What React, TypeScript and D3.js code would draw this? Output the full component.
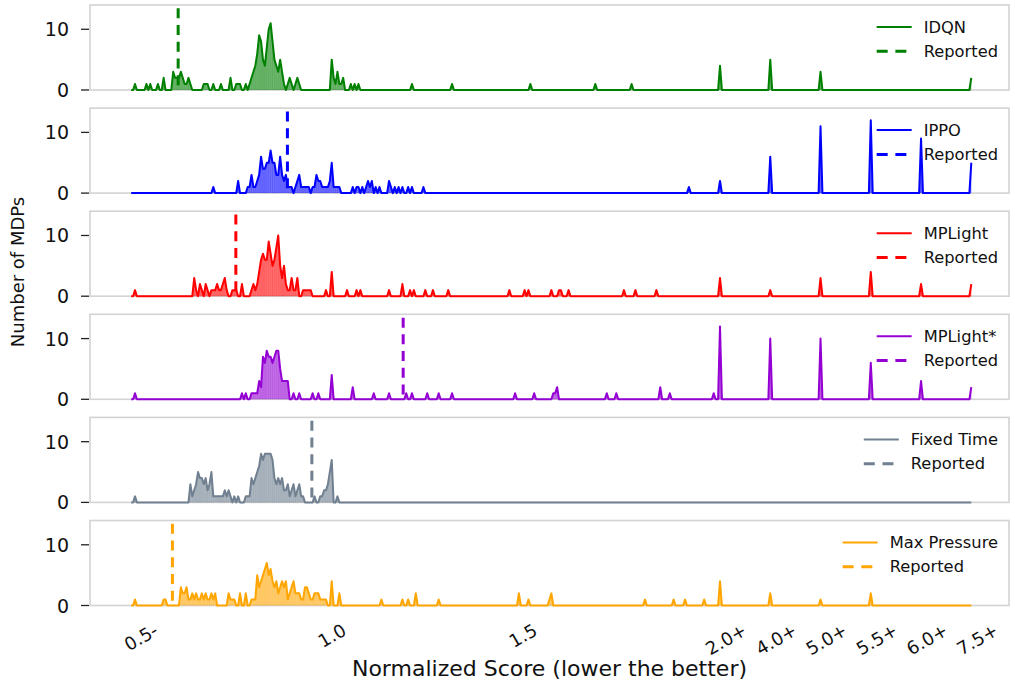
import React, { useMemo } from "react";
import * as d3 from "d3";

type Bin = [number, number];

// ---------------- DATA ----------------
const methodNames = ["IDQN", "IPPO", "MPLight", "MPLight*", "Fixed Time", "Max Pressure"];
const methodColors = ["green", "blue", "red", "darkviolet", "slategray", "orange"];
const reportedScores = [0.613, 0.899, 0.764, 1.202, 0.963, 0.598];

const mainTickValues = [0.5, 1.0, 1.5];
const mainTickLabels = ["0.5-", "1.0", "1.5"];
const tailLabels = ["2.0+", "4.0+", "5.0+", "5.5+", "6.0+", "7.5+"];
const yTickValues = [0, 10];

const idqnBins: Bin[] = [
  [0.5, 1], [0.53, 1], [0.54, 1], [0.56, 1], [0.575, 2],
  [0.6, 3], [0.605, 2], [0.61, 2], [0.615, 2], [0.62, 3], [0.625, 2], [0.63, 1], [0.635, 1], [0.64, 2], [0.645, 1],
  [0.68, 1], [0.685, 1], [0.69, 1], [0.705, 1], [0.725, 1], [0.75, 2], [0.765, 1], [0.77, 1], [0.775, 1], [0.79, 1],
  [0.8, 1], [0.805, 2], [0.81, 3], [0.815, 4], [0.82, 6], [0.825, 9], [0.83, 8], [0.835, 5], [0.84, 4], [0.845, 7],
  [0.85, 10], [0.855, 11], [0.86, 8], [0.865, 5], [0.87, 4], [0.875, 3], [0.88, 5], [0.885, 3], [0.89, 1],
  [0.9, 1], [0.905, 2], [0.91, 1], [0.92, 1], [0.925, 2], [0.93, 1],
  [1.015, 5], [1.02, 2], [1.025, 1], [1.03, 3], [1.035, 1], [1.04, 1], [1.045, 2], [1.065, 1], [1.075, 1], [1.085, 1],
  [1.225, 1], [1.33, 1], [1.535, 1], [1.705, 1], [1.8, 1],
];
const idqnTail = [4, 5, 3, 0, 0, 2];

const ippoBins: Bin[] = [
  [0.705, 1], [0.77, 2],
  [0.795, 1], [0.8, 1], [0.805, 3], [0.81, 1], [0.815, 1], [0.82, 2], [0.825, 3], [0.83, 6], [0.835, 4], [0.84, 4],
  [0.845, 5], [0.85, 5], [0.855, 7], [0.86, 5], [0.865, 5], [0.87, 3], [0.875, 3], [0.88, 6], [0.885, 3], [0.89, 2],
  [0.895, 3], [0.9, 1], [0.905, 1], [0.91, 1],
  [0.92, 1], [0.925, 2], [0.93, 3], [0.935, 1], [0.94, 1], [0.945, 1], [0.95, 1], [0.955, 1],
  [0.965, 1], [0.97, 1], [0.975, 3], [0.98, 2], [0.985, 2], [0.99, 1], [0.995, 1], [1.0, 1], [1.005, 1], [1.01, 2],
  [1.015, 5], [1.02, 1], [1.025, 1], [1.03, 1], [1.035, 1],
  [1.07, 1], [1.08, 1], [1.085, 1], [1.095, 1], [1.105, 1], [1.11, 2], [1.115, 1], [1.12, 2], [1.13, 1], [1.14, 1],
  [1.165, 2], [1.17, 1], [1.18, 1], [1.19, 1], [1.2, 1], [1.215, 1], [1.225, 1], [1.255, 1],
  [1.95, 1],
];
const ippoTail = [2, 6, 11, 12, 9, 5];

const mplightBins: Bin[] = [
  [0.5, 1],
  [0.655, 3], [0.66, 1], [0.67, 2], [0.675, 1], [0.685, 2], [0.69, 1], [0.7, 1], [0.705, 1], [0.71, 1], [0.715, 2],
  [0.72, 1], [0.725, 1], [0.73, 2], [0.735, 3], [0.74, 1],
  [0.755, 1], [0.76, 1], [0.765, 1], [0.78, 2],
  [0.805, 1], [0.81, 2], [0.815, 1], [0.82, 2], [0.825, 4], [0.83, 6], [0.835, 7], [0.84, 6], [0.845, 6], [0.85, 9],
  [0.855, 7], [0.86, 5], [0.865, 6], [0.87, 8], [0.875, 10], [0.88, 5], [0.885, 3], [0.89, 5], [0.895, 2], [0.9, 1],
  [0.905, 1], [0.91, 3], [0.915, 1], [0.92, 1], [0.925, 3], [0.94, 1], [0.945, 1], [0.95, 1], [0.955, 1], [0.96, 1],
  [1.0, 1], [1.015, 4],
  [1.055, 1], [1.08, 1], [1.09, 1], [1.165, 1], [1.2, 2], [1.22, 1], [1.23, 1], [1.26, 1], [1.28, 1], [1.32, 1],
  [1.48, 1], [1.52, 1], [1.53, 1], [1.59, 1], [1.61, 1], [1.615, 1], [1.635, 1], [1.78, 1], [1.81, 1], [1.865, 1],
];
const mplightTail = [3, 1, 3, 4, 2, 2];

const mplightStarBins: Bin[] = [
  [0.5, 1],
  [0.78, 1], [0.79, 1],
  [0.805, 1], [0.81, 1], [0.815, 1], [0.82, 1], [0.825, 3], [0.83, 2], [0.835, 7], [0.84, 6], [0.845, 8], [0.85, 7],
  [0.855, 7], [0.86, 6], [0.865, 7], [0.87, 8], [0.875, 8], [0.88, 5], [0.885, 3], [0.89, 3], [0.895, 3], [0.9, 3],
  [0.915, 1], [0.93, 1], [0.965, 1], [0.98, 1], [1.015, 4], [1.07, 2], [1.125, 1], [1.165, 1], [1.21, 1], [1.225, 1],
  [1.265, 1], [1.295, 1], [1.33, 1], [1.495, 1], [1.545, 1], [1.595, 1], [1.6, 1], [1.605, 2], [1.735, 1], [1.76, 1],
  [1.875, 2], [1.9, 1], [2.015, 1],
];
const mplightStarTail = [12, 10, 10, 6, 3, 2];

const fixedTimeBins: Bin[] = [
  [0.5, 1],
  [0.645, 3], [0.65, 1], [0.655, 2], [0.66, 3], [0.665, 5], [0.67, 4], [0.675, 4], [0.68, 3], [0.685, 4], [0.69, 2],
  [0.695, 3], [0.7, 5], [0.705, 1], [0.71, 1], [0.715, 1], [0.72, 1], [0.725, 1], [0.73, 1], [0.735, 2], [0.74, 1],
  [0.745, 2], [0.75, 1], [0.76, 1], [0.77, 1],
  [0.79, 1], [0.795, 1], [0.8, 1], [0.805, 4], [0.81, 3], [0.815, 4], [0.82, 5], [0.825, 6], [0.83, 8], [0.835, 7],
  [0.84, 8], [0.845, 8], [0.85, 8], [0.855, 8], [0.86, 7], [0.865, 4], [0.87, 3], [0.875, 4], [0.88, 3], [0.885, 4],
  [0.89, 2], [0.895, 2], [0.9, 3], [0.905, 1], [0.91, 2], [0.915, 3], [0.92, 1], [0.925, 2], [0.93, 3], [0.935, 1],
  [0.94, 1],
  [0.97, 1], [0.985, 1], [0.99, 1], [0.995, 2], [1.0, 2], [1.005, 3], [1.01, 5], [1.015, 7], [1.03, 1],
];
const fixedTimeTail = [0, 0, 0, 0, 0, 0];

const maxPressureBins: Bin[] = [
  [0.5, 1], [0.575, 1], [0.58, 1],
  [0.62, 3], [0.625, 2], [0.63, 2], [0.635, 3], [0.64, 1], [0.645, 1], [0.65, 2], [0.655, 1], [0.66, 2], [0.665, 1],
  [0.67, 1], [0.675, 2], [0.68, 1], [0.685, 2], [0.69, 1], [0.695, 1], [0.7, 2], [0.705, 1], [0.71, 2],
  [0.745, 2], [0.75, 1], [0.755, 1], [0.76, 1], [0.775, 2], [0.79, 2],
  [0.805, 1], [0.81, 1], [0.815, 1], [0.82, 5], [0.825, 3], [0.83, 4], [0.835, 5], [0.84, 6], [0.845, 7], [0.85, 5],
  [0.855, 6], [0.86, 4], [0.865, 3], [0.87, 4], [0.875, 2], [0.88, 3], [0.885, 4], [0.89, 3], [0.895, 4], [0.9, 1],
  [0.905, 2], [0.91, 3], [0.915, 4], [0.92, 2], [0.925, 2], [0.93, 2], [0.935, 1], [0.94, 1], [0.945, 3], [0.95, 3],
  [0.955, 2], [0.96, 1], [0.965, 1], [0.97, 2], [0.975, 2], [0.98, 2], [0.985, 1], [0.99, 1], [0.995, 1], [1.0, 1],
  [1.015, 4], [1.035, 2],
  [1.145, 1], [1.2, 1], [1.215, 1], [1.235, 2], [1.295, 1], [1.505, 2], [1.53, 1], [1.585, 1], [1.59, 2],
  [1.835, 1], [1.91, 1], [1.94, 1], [1.99, 1],
];
const maxPressureTail = [4, 2, 1, 2, 0, 0];

const allBins = [idqnBins, ippoBins, mplightBins, mplightStarBins, fixedTimeBins, maxPressureBins];
const allTails = [idqnTail, ippoTail, mplightTail, mplightStarTail, fixedTimeTail, maxPressureTail];

// ---------------- LAYOUT ----------------
const W = 1015;
const H = 681;
const AX_LEFT = 90;
const AX_RIGHT = 1009;
const PANEL_TOP0 = 5;
const PANEL_STEP = 103.1;
const PANEL_H = 85;
const Y_MAX = 14;
const REPORTED_TOP = 13.45;
const TAIL_FIRST_PX = 720;
const TAIL_STEP_PX = 50.26;
const BIN_W = 0.005;
const FONT = "DejaVu Sans, Liberation Sans, sans-serif";
const LEGEND_FS = 16.3;
const XTICK_FS = 18;
const YTICK_FS = 19;
const LABEL_FS = 22;

const measureCtx = (() => {
  if (typeof document === "undefined") return null;
  const c = document.createElement("canvas");
  return c.getContext("2d");
})();
function textWidth(t: string, size: number) {
  if (!measureCtx) return t.length * size * 0.6;
  measureCtx.font = `${size}px "DejaVu Sans"`;
  return measureCtx.measureText(t).width;
}

export default function App() {
  const xScale = useMemo(() => d3.scaleLinear().domain([0.5, 2.0]).range([135, 708]), []);
  const tailPos = useMemo(
    () => tailLabels.map((_, i) => xScale.invert(TAIL_FIRST_PX + i * TAIL_STEP_PX)),
    [xScale]
  );

  const seriesPoints = useMemo(() => {
    return allBins.map((bins, si) => {
      const m = new Map<number, number>();
      bins.forEach(([s, c]) => m.set(Math.round(s * 1000), c));
      const pts: { x: number; c: number }[] = [];
      const nGrid = Math.round((2.02 - 0.49) / BIN_W);
      for (let k = 0; k <= nGrid; k++) {
        const s = 0.49 + k * BIN_W;
        pts.push({ x: s, c: m.get(Math.round(s * 1000)) ?? 0 });
      }
      const tail = allTails[si];
      tailPos.forEach((p, i) => {
        pts.push({ x: p - BIN_W, c: 0 });
        pts.push({ x: p, c: tail[i] });
        if (i < tailPos.length - 1) pts.push({ x: p + BIN_W, c: 0 });
      });
      return pts;
    });
  }, [tailPos]);

  const xTicks = [
    ...mainTickValues.map((v, i) => ({ pos: v, label: mainTickLabels[i] })),
    ...tailPos.map((p, i) => ({ pos: p, label: tailLabels[i] })),
  ];

  const lastTop = PANEL_TOP0 + 5 * PANEL_STEP;
  const axisBottom = lastTop + PANEL_H;

  return (
    <svg
      width={W}
      height={H}
      style={{ position: "absolute", left: 0, top: 0, display: "block", background: "white" }}
      fontFamily={FONT}
    >
      <rect x={0} y={0} width={W} height={H} fill="white" />
      {methodNames.map((name, si) => {
        const top = PANEL_TOP0 + si * PANEL_STEP;
        const yScale = d3.scaleLinear().domain([0, Y_MAX]).range([top + PANEL_H, top]);
        const pts = seriesPoints[si];
        const color = methodColors[si];
        const line = d3
          .line<{ x: number; c: number }>()
          .x((d) => xScale(d.x))
          .y((d) => yScale(d.c));
        const y0 = yScale(0);
        const polys: string[] = [];
        const stripes: { x: number; y: number }[] = [];
        for (let i = 0; i < pts.length - 1; i++) {
          const a = pts[i];
          const b = pts[i + 1];
          if (a.c > 0) stripes.push({ x: xScale(a.x), y: yScale(a.c) });
          if (a.c <= 0 && b.c <= 0) continue;
          const xa = xScale(a.x);
          const xb = xScale(b.x);
          polys.push(`M${xa},${y0}L${xa},${yScale(a.c)}L${xb},${yScale(b.c)}L${xb},${y0}Z`);
        }
        const rx = xScale(reportedScores[si]);
        const w1 = textWidth(name, LEGEND_FS);
        const w2 = textWidth("Reported", LEGEND_FS);
        const textX = 998 - Math.max(w1, w2);
        const row1 = top + 22;
        const row2 = top + 46.3;
        return (
          <g key={name}>
            <rect
              x={AX_LEFT}
              y={top}
              width={AX_RIGHT - AX_LEFT}
              height={PANEL_H}
              fill="none"
              stroke="#d3d3d3"
              strokeWidth={1.6}
            />
            {yTickValues.map((v) => (
              <g key={v}>
                <line x1={81} x2={89} y1={yScale(v)} y2={yScale(v)} stroke="#222" strokeWidth={1.3} />
                <text
                  x={69}
                  y={yScale(v)}
                  textAnchor="end"
                  dominantBaseline="central"
                  fontSize={YTICK_FS}
                  fill="#111"
                >
                  {v}
                </text>
              </g>
            ))}
            {polys.map((p, i) => (
              <path key={i} d={p} fill={color} fillOpacity={0.55} stroke="none" />
            ))}
            {stripes.map((s, i) => (
              <line
                key={`s${i}`}
                x1={s.x}
                x2={s.x}
                y1={y0}
                y2={s.y}
                stroke={color}
                strokeOpacity={0.45}
                strokeWidth={0.7}
              />
            ))}
            <path
              d={line(pts) || ""}
              fill="none"
              stroke={color}
              strokeWidth={2}
              strokeLinejoin="round"
            />
            <line
              x1={rx}
              x2={rx}
              y1={yScale(REPORTED_TOP)}
              y2={yScale(0)}
              stroke={color}
              strokeWidth={3}
              strokeDasharray="10,6.7"
            />
            <line x1={textX - 47} x2={textX - 12} y1={row1} y2={row1} stroke={color} strokeWidth={2} />
            <text x={textX} y={row1} dominantBaseline="central" fontSize={LEGEND_FS} fill="#111">
              {name}
            </text>
            <line
              x1={textX - 47}
              x2={textX - 12}
              y1={row2}
              y2={row2}
              stroke={color}
              strokeWidth={3}
              strokeDasharray="11,7.7"
            />
            <text x={textX} y={row2} dominantBaseline="central" fontSize={LEGEND_FS} fill="#111">
              Reported
            </text>
          </g>
        );
      })}
      {xTicks.map((t) => {
        const px = xScale(t.pos);
        const w = textWidth(t.label, XTICK_FS);
        const h = XTICK_FS * 1.0;
        const bboxH = w * Math.sin(Math.PI / 6) + h * Math.cos(Math.PI / 6);
        const cx = px + 6;
        const cy = axisBottom + 15 + bboxH / 2;
        return (
          <text
            key={t.label}
            x={cx}
            y={cy}
            textAnchor="middle"
            dominantBaseline="central"
            fontSize={XTICK_FS}
            fill="#111"
            transform={`rotate(-30, ${cx}, ${cy})`}
          >
            {t.label}
          </text>
        );
      })}
      <text
        x={(AX_LEFT + AX_RIGHT) / 2}
        y={676}
        textAnchor="middle"
        fontSize={LABEL_FS}
        fill="#111"
      >
        Normalized Score (lower the better)
      </text>
      <text
        x={0}
        y={0}
        textAnchor="middle"
        dominantBaseline="central"
        fontSize={18}
        fill="#111"
        transform={`translate(17, 272) rotate(-90)`}
      >
        Number of MDPs
      </text>
    </svg>
  );
}
